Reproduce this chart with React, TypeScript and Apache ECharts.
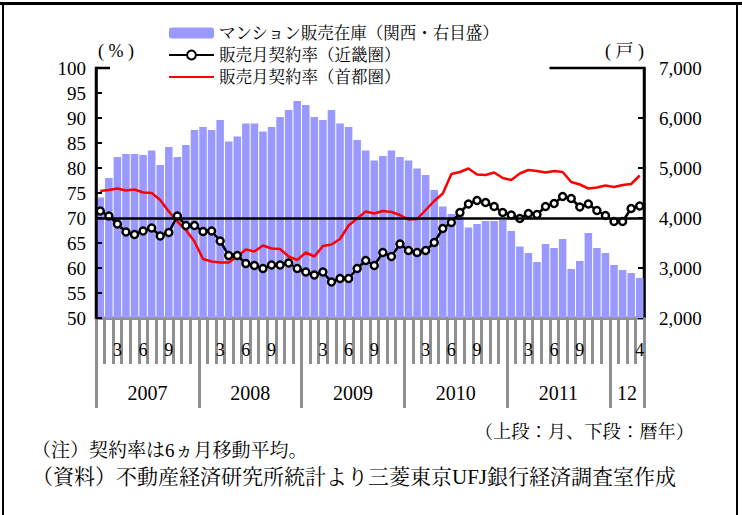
import React, { useEffect, useRef } from "react";
import * as echarts from "echarts";

const months: string[] = [
  "2007/1","2007/2","2007/3","2007/4","2007/5","2007/6","2007/7","2007/8","2007/9","2007/10","2007/11","2007/12",
  "2008/1","2008/2","2008/3","2008/4","2008/5","2008/6","2008/7","2008/8","2008/9","2008/10","2008/11","2008/12",
  "2009/1","2009/2","2009/3","2009/4","2009/5","2009/6","2009/7","2009/8","2009/9","2009/10","2009/11","2009/12",
  "2010/1","2010/2","2010/3","2010/4","2010/5","2010/6","2010/7","2010/8","2010/9","2010/10","2010/11","2010/12",
  "2011/1","2011/2","2011/3","2011/4","2011/5","2011/6","2011/7","2011/8","2011/9","2011/10","2011/11","2011/12",
  "2012/1","2012/2","2012/3","2012/4",
];

const inventory: number[] = [
  4410, 4800, 5220, 5280, 5280, 5260, 5350, 5060, 5420, 5220, 5460, 5760,
  5820, 5760, 5960, 5530, 5630, 5890, 5890, 5730, 5820, 6020, 6160, 6340,
  6260, 6020, 5960, 6160, 5890, 5820, 5560, 5350, 5150, 5240, 5350, 5220,
  5150, 4990, 4860, 4560, 4230, 4080, 4080, 3810, 3880, 3940, 3940, 3960,
  3740, 3430, 3300, 3120, 3480, 3400, 3580, 2980, 3140, 3700, 3400, 3300,
  3060, 2960, 2900, 2800,
];

const kinki: number[] = [
  71.4, 70.4, 68.8, 67.2, 66.7, 67.4, 68.0, 66.4, 67.1, 70.4, 68.5, 68.5,
  67.3, 67.4, 65.4, 62.5, 62.5, 60.9, 60.5, 59.9, 60.6, 60.6, 61.0, 59.9,
  59.2, 58.6, 59.2, 57.2, 57.9, 57.9, 59.9, 61.5, 60.5, 63.1, 62.3, 64.8,
  63.5, 63.1, 63.5, 65.1, 67.9, 69.1, 71.1, 72.8, 73.5, 73.1, 72.3, 71.1,
  70.6, 69.9, 70.9, 70.7, 72.3, 72.9, 74.3, 73.9, 72.2, 72.8, 71.5, 70.5,
  69.3, 69.3, 71.9, 72.4,
];

const shutoken: number[] = [
  75.4, 75.6, 75.9, 75.5, 75.7, 75.1, 75.0, 73.6, 71.3, 69.3, 67.6, 65.3,
  61.8, 61.3, 61.1, 61.1, 62.3, 63.7, 63.3, 64.5, 63.9, 63.8, 62.3, 61.6,
  63.1, 62.3, 64.4, 64.7, 65.8, 68.5, 69.9, 71.3, 70.9, 71.4, 71.2, 70.6,
  69.7, 69.8, 71.6, 73.4, 74.9, 78.8, 79.2, 79.9, 78.7, 78.6, 79.1, 78.0,
  77.6, 78.9, 79.6, 79.4, 79.1, 79.4, 79.2, 77.2, 76.7, 75.9, 76.1, 76.5,
  76.2, 76.6, 76.8, 78.5,
];

const monthLabelShown: string[] = ["3", "6", "9"];
const yearTickPositions: number[] = [0, 12, 24, 36, 48, 60, 64];
const yearLabelPositions: number[] = [6, 18, 30, 42, 54, 62];
const yearLabels: string[] = ["2007", "2008", "2009", "2010", "2011", "12"];

const seriesNames = {
  inv: "マンション販売在庫（関西・右目盛）",
  kinki: "販売月契約率（近畿圏）",
  shuto: "販売月契約率（首都圏）",
};

const SERIF = "'Liberation Serif', 'Noto Serif CJK JP', 'Noto Sans CJK JP', serif";
const GREY = "#8f8f8f";

export default function App() {
  const ref = useRef<HTMLDivElement>(null);
  useEffect(() => {
    if (!ref.current) return;
    const chart = echarts.init(ref.current, undefined, { renderer: "svg" });
    const option: any = {
      animation: false,
      backgroundColor: "#fff",
      textStyle: { fontFamily: SERIF },
      grid: {
        left: 96,
        right: 98,
        top: 68,
        bottom: 197,
        show: true,
        borderColor: "#000",
        borderWidth: 2.5,
        backgroundColor: "transparent",
      },
      legend: {
        orient: "vertical",
        left: 110,
        top: 20,
        padding: [4, 50, 8, 58],
        backgroundColor: "#fff",
        itemWidth: 45,
        itemHeight: 11,
        itemGap: 4,
        data: [
          seriesNames.inv,
          seriesNames.kinki,
          { name: seriesNames.shuto, itemStyle: { color: "rgba(0,0,0,0)", borderColor: "rgba(0,0,0,0)", borderWidth: 0 } },
        ],
        textStyle: { fontFamily: SERIF, fontSize: 16.5, lineHeight: 18, color: "#000" },
      },
      xAxis: [
        {
          type: "category",
          data: months,
          position: "bottom",
          boundaryGap: true,
          axisLine: { show: true, lineStyle: { color: GREY, width: 3 } },
          axisTick: { show: true, interval: 0, length: 46, lineStyle: { color: GREY, width: 3 } },
          axisLabel: {
            interval: 0,
            margin: 23,
            fontFamily: SERIF,
            fontSize: 18,
            color: "#000",
            formatter: (v: string, idx: number) => {
              const parts = v.split("/");
              const m = parts[1];
              if (idx === months.length - 1) return m;
              if (parts[0] === "2012") return "";
              return monthLabelShown.includes(m) ? m : "";
            },
          },
          splitLine: { show: false },
        },
        {
          type: "value",
          min: 0,
          max: months.length,
          position: "bottom",
          axisLine: { show: false },
          splitLine: { show: false },
          axisTick: {
            show: true,
            customValues: yearTickPositions,
            length: 90,
            lineStyle: { color: GREY, width: 3 },
          },
          axisLabel: {
            customValues: yearLabelPositions,
            margin: 65,
            fontFamily: SERIF,
            fontSize: 20,
            color: "#000",
            formatter: (v: number) => {
              const i = yearLabelPositions.indexOf(v);
              return i >= 0 ? yearLabels[i] : "";
            },
          },
        },
      ],
      yAxis: [
        {
          type: "value",
          min: 50,
          max: 100,
          interval: 5,
          position: "left",
          z: 6,
          name: "( % )",
          nameLocation: "end",
          nameGap: 8,
          nameTextStyle: { align: "left", fontFamily: SERIF, fontSize: 18, color: "#000", padding: [0, 0, 0, 2] },
          axisLine: { show: true, lineStyle: { color: "#000", width: 2.5 } },
          axisTick: { show: true, inside: true, length: 6, lineStyle: { color: "#000", width: 2 } },
          axisLabel: { margin: 10, fontFamily: SERIF, fontSize: 19, color: "#000" },
          splitLine: { show: false },
        },
        {
          type: "value",
          min: 2000,
          max: 7000,
          interval: 1000,
          position: "right",
          name: "( 戸 )",
          nameLocation: "end",
          nameGap: 8,
          nameTextStyle: { align: "right", fontFamily: SERIF, fontSize: 18, color: "#000" },
          axisLine: { show: true, lineStyle: { color: "#000", width: 2.5 } },
          axisTick: { show: true, inside: true, length: 6, lineStyle: { color: "#000", width: 2 } },
          axisLabel: {
            margin: 15,
            fontFamily: SERIF,
            fontSize: 19,
            color: "#000",
            formatter: (v: number) => v.toLocaleString("en-US"),
          },
          splitLine: { show: false },
        },
      ],
      series: [
        {
          name: seriesNames.inv,
          type: "bar",
          xAxisIndex: 0,
          yAxisIndex: 1,
          data: inventory,
          barCategoryGap: "12%",
          itemStyle: { color: "#9999ff" },
        },
        {
          name: seriesNames.shuto,
          type: "line",
          xAxisIndex: 0,
          yAxisIndex: 0,
          data: shutoken,
          symbol: "none",
          lineStyle: { color: "#ff0000", width: 2.5 },
          itemStyle: { color: "#ff0000" },
          markLine: {
            silent: true,
            symbol: ["none", "none"],
            label: { show: false },
            lineStyle: { color: "#000", width: 2.5, type: "solid" },
            data: [{ yAxis: 70 }],
          },
        },
        {
          name: seriesNames.kinki,
          type: "line",
          xAxisIndex: 0,
          yAxisIndex: 0,
          data: kinki,
          symbol: "circle",
          symbolSize: 7,
          lineStyle: { color: "#000", width: 2.5 },
          itemStyle: { color: "#fff", borderColor: "#000", borderWidth: 2.5 },
        },
      ],
      graphic: [
        { type: "line", shape: { x1: 0, y1: 3.5, x2: 742, y2: 3.5 }, style: { stroke: "#000", lineWidth: 3 } },
        { type: "line", shape: { x1: 3, y1: 2, x2: 3, y2: 515 }, style: { stroke: "#000", lineWidth: 2 } },
        { type: "line", shape: { x1: 737, y1: 2, x2: 737, y2: 515 }, style: { stroke: "#000", lineWidth: 2 } },
        {
          type: "text",
          right: 48,
          top: 423,
          style: { text: "（上段：月、下段：暦年）", fontFamily: SERIF, fontSize: 18.3, fill: "#000" },
        },
        {
          type: "text",
          left: 32,
          top: 441,
          style: { text: "（注）契約率は6ヵ月移動平均。", fontFamily: SERIF, fontSize: 19, fill: "#000" },
        },
        {
          type: "text",
          left: 32,
          top: 466,
          style: {
            text: "（資料）不動産経済研究所統計より三菱東京UFJ銀行経済調査室作成",
            fontFamily: SERIF,
            fontSize: 21,
            fill: "#000",
          },
        },
      ],
    };
    chart.setOption(option);
    return () => chart.dispose();
  }, []);
  return (
    <div
      ref={ref}
      style={{ position: "fixed", left: 0, top: 0, width: 742, height: 515 }}
    />
  );
}
